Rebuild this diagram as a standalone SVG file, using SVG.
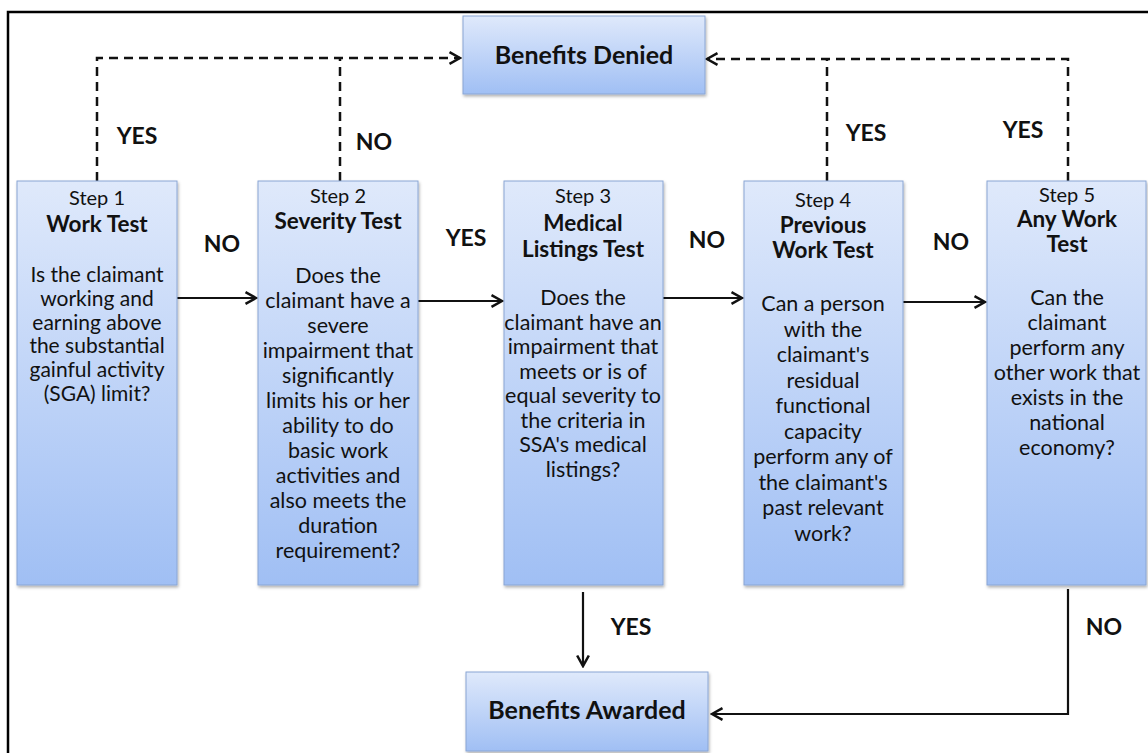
<svg xmlns="http://www.w3.org/2000/svg" width="1148" height="753" viewBox="0 0 1148 753">
<style>
.box{fill:url(#g);stroke:#8aa6d4;stroke-width:1;filter:url(#sh)}
.t{font-family:Lato,"Liberation Sans",sans-serif;font-size:21.5px;fill:#111;text-anchor:middle}
.t1{font-family:Lato,"Liberation Sans",sans-serif;font-size:21px;fill:#111;text-anchor:middle}
.st{font-family:Lato,"Liberation Sans",sans-serif;font-size:20px;fill:#111;text-anchor:middle}
.h{font-family:Lato,"Liberation Sans",sans-serif;font-size:22.5px;font-weight:bold;fill:#111;text-anchor:middle}
.big{font-family:Lato,"Liberation Sans",sans-serif;font-size:25px;font-weight:bold;fill:#111;text-anchor:middle}
.lb{font-family:Lato,"Liberation Sans",sans-serif;font-size:23px;font-weight:bold;fill:#111;text-anchor:middle}
.dash{fill:none;stroke:#111;stroke-width:2.5;stroke-dasharray:9 6}
.sol{fill:none;stroke:#111;stroke-width:2.2}
</style>
<defs>
<linearGradient id="g" x1="0" y1="0" x2="0" y2="1">
<stop offset="0" stop-color="#dfe9fb"/>
<stop offset="1" stop-color="#a0bff4"/>
</linearGradient>
<filter id="sh" x="-10%" y="-10%" width="120%" height="120%">
<feDropShadow dx="1" dy="2" stdDeviation="1.5" flood-color="#000" flood-opacity="0.3"/>
</filter>
<marker id="ah" markerUnits="userSpaceOnUse" markerWidth="14" markerHeight="14" refX="9" refY="5" orient="auto" viewBox="-1 -1 12 12">
<path d="M0,0 L9,5 L0,10" fill="none" stroke="#111" stroke-width="2.2" stroke-dasharray="none"/>
</marker>
</defs>
<path d="M8,753 V12 H1148" fill="none" stroke="#000" stroke-width="2.5"/>

<g id="connectors">
<path class="dash" d="M97,181 V58 H460" marker-end="url(#ah)"/>
<path class="dash" d="M340,181 V58"/>
<path class="dash" d="M1068,181 V59 H707" marker-end="url(#ah)"/>
<path class="dash" d="M827,181 V59"/>
<path class="sol" d="M177,298 H256" marker-end="url(#ah)"/>
<path class="sol" d="M418,301 H502" marker-end="url(#ah)"/>
<path class="sol" d="M663,298 H742" marker-end="url(#ah)"/>
<path class="sol" d="M903,302 H985" marker-end="url(#ah)"/>
<path class="sol" d="M583,592 V666" marker-end="url(#ah)"/>
<path class="sol" d="M1068,589 V714 H712" marker-end="url(#ah)"/>
<text class="lb" x="137" y="144">YES</text>
<text class="lb" x="374" y="150">NO</text>
<text class="lb" x="866" y="141">YES</text>
<text class="lb" x="1023" y="138">YES</text>
<text class="lb" x="222" y="252">NO</text>
<text class="lb" x="466" y="246">YES</text>
<text class="lb" x="707" y="248">NO</text>
<text class="lb" x="951" y="250">NO</text>
<text class="lb" x="631" y="635">YES</text>
<text class="lb" x="1104" y="635">NO</text>
</g>

<g id="denied">
<rect class="box" x="463" y="16" width="242" height="78"/>
<text class="big" x="584" y="64">Benefits Denied</text>
</g>

<g id="awarded">
<rect class="box" x="466" y="672" width="242" height="79"/>
<text class="big" x="587" y="719">Benefits Awarded</text>
</g>

<g id="step1">
<rect class="box" x="17" y="181" width="160" height="404"/>
<text class="st" x="97" y="205">Step 1</text>
<text class="h" x="97" y="232">Work Test</text>
<text class="t1"><tspan x="97" y="282">Is the claimant</tspan><tspan x="97" y="305.8">working and</tspan><tspan x="97" y="329.6">earning above</tspan><tspan x="97" y="353.4">the substantial</tspan><tspan x="97" y="377.2">gainful activity</tspan><tspan x="97" y="401">(SGA) limit?</tspan></text>
</g>

<g id="step2">
<rect class="box" x="258" y="181" width="160" height="404"/>
<text class="st" x="338" y="203">Step 2</text>
<text class="h" x="338" y="229">Severity Test</text>
<text class="t"><tspan x="338" y="283">Does the</tspan><tspan x="338" y="308">claimant have a</tspan><tspan x="338" y="333">severe</tspan><tspan x="338" y="358">impairment that</tspan><tspan x="338" y="383">significantly</tspan><tspan x="338" y="408">limits his or her</tspan><tspan x="338" y="433">ability to do</tspan><tspan x="338" y="458">basic work</tspan><tspan x="338" y="483">activities and</tspan><tspan x="338" y="508">also meets the</tspan><tspan x="338" y="533">duration</tspan><tspan x="338" y="558">requirement?</tspan></text>
</g>

<g id="step3">
<rect class="box" x="504" y="181" width="159" height="404"/>
<text class="st" x="583" y="203">Step 3</text>
<text class="h" x="583" y="231">Medical</text>
<text class="h" x="583" y="257">Listings Test</text>
<text class="t"><tspan x="583" y="305">Does the</tspan><tspan x="583" y="329.5">claimant have an</tspan><tspan x="583" y="354">impairment that</tspan><tspan x="583" y="378.5">meets or is of</tspan><tspan x="583" y="403">equal severity to</tspan><tspan x="583" y="427.5">the criteria in</tspan><tspan x="583" y="452">SSA's medical</tspan><tspan x="583" y="476.5">listings?</tspan></text>
</g>

<g id="step4">
<rect class="box" x="744" y="181" width="159" height="404"/>
<text class="st" x="823" y="207">Step 4</text>
<text class="h" x="823" y="233">Previous</text>
<text class="h" x="823" y="258">Work Test</text>
<text class="t"><tspan x="823" y="311">Can a person</tspan><tspan x="823" y="336.5">with the</tspan><tspan x="823" y="362">claimant's</tspan><tspan x="823" y="387.5">residual</tspan><tspan x="823" y="413">functional</tspan><tspan x="823" y="438.5">capacity</tspan><tspan x="823" y="464">perform any of</tspan><tspan x="823" y="489.5">the claimant's</tspan><tspan x="823" y="515">past relevant</tspan><tspan x="823" y="540.5">work?</tspan></text>
</g>

<g id="step5">
<rect class="box" x="987" y="181" width="159" height="404"/>
<text class="st" x="1067" y="202">Step 5</text>
<text class="h" x="1067" y="227">Any Work</text>
<text class="h" x="1067" y="252">Test</text>
<text class="t"><tspan x="1067" y="305">Can the</tspan><tspan x="1067" y="330">claimant</tspan><tspan x="1067" y="355">perform any</tspan><tspan x="1067" y="380">other work that</tspan><tspan x="1067" y="405">exists in the</tspan><tspan x="1067" y="430">national</tspan><tspan x="1067" y="455">economy?</tspan></text>
</g>
</svg>
